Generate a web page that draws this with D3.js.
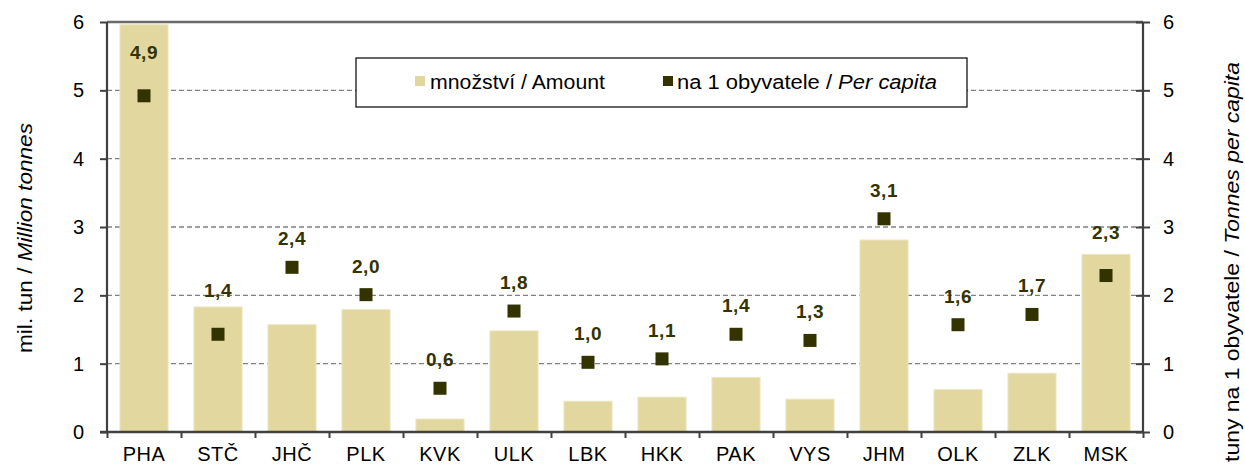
<!DOCTYPE html>
<html><head><meta charset="utf-8">
<script src="https://cdn.jsdelivr.net/npm/d3@7"></script>
<style>
html,body{margin:0;padding:0;background:#fff;}
text{font-family:"Liberation Sans",Arial,sans-serif;}
</style></head>
<body><svg id="c" width="1245" height="468"></svg>
<script>
const categories = ["PHA","STČ","JHČ","PLK","KVK","ULK","LBK","HKK","PAK","VYS","JHM","OLK","ZLK","MSK"];
const amount = [5.96,1.83,1.57,1.79,0.19,1.48,0.45,0.51,0.80,0.48,2.81,0.62,0.86,2.60];
const perCapita = [4.92,1.43,2.41,2.01,0.64,1.77,1.02,1.07,1.43,1.34,3.12,1.57,1.72,2.29];
const yTicks = [0,1,2,3,4,5,6];

const svg = d3.select("#c");
const L = 107, R = 1143, T = 22, B = 432;
const x = d3.scaleBand().domain(categories).range([L,R]).paddingInner(0.35).paddingOuter(0.175);
const y = d3.scaleLinear().domain([0,6]).range([B,T]);
const y2 = d3.scaleLinear().domain([0,6]).range([B,T]);
const fmt = v => d3.format(".1f")(v).replace(".",",");

// gridlines
svg.append("g").selectAll("line").data(yTicks.filter(d=>d>0)).join("line")
  .attr("x1",L).attr("x2",R).attr("y1",d=>y(d)).attr("y2",d=>y(d))
  .attr("stroke","#808080").attr("stroke-width",1.3).attr("stroke-dasharray","5,3");
svg.append("line").attr("x1",L).attr("x2",R).attr("y1",y(6)).attr("y2",y(6))
  .attr("stroke","#6a6a6a").attr("stroke-width",2.5);

// bars
svg.append("g").selectAll("rect").data(categories).join("rect")
  .attr("x",d=>x(d)).attr("width",x.bandwidth())
  .attr("y",(d,i)=>y(amount[i])).attr("height",(d,i)=>B-y(amount[i]))
  .attr("fill","#e1d79f").attr("stroke","#ece6c2").attr("stroke-width",1);

// left axis
const gl = svg.append("g").attr("transform",`translate(${L},0)`)
  .call(d3.axisLeft(y).tickValues(yTicks).tickSize(7).tickPadding(16).tickFormat(d3.format("d")));
// right axis
const gr = svg.append("g").attr("transform",`translate(${R},0)`)
  .call(d3.axisRight(y2).tickValues(yTicks).tickSize(7).tickPadding(13).tickFormat(d3.format("d")));
gr.selectAll(".tick line").attr("x1",-7);
// bottom axis
const xb = d3.scaleLinear().domain([0,categories.length]).range([L,R]);
const gb = svg.append("g").attr("transform",`translate(0,${B})`)
  .call(d3.axisBottom(xb).tickValues(d3.range(0,categories.length+1)).tickSize(6).tickFormat(""));
gb.select(".domain").remove();
svg.append("line").attr("x1",L-7).attr("x2",R).attr("y1",B).attr("y2",B).attr("stroke","#404040").attr("stroke-width",2.5);
[gl,gr].forEach(g=>{
  g.select(".domain").attr("d",`M0,${T}V${B}`).attr("stroke","#404040").attr("stroke-width",2.2);
  g.selectAll(".tick line").attr("stroke","#404040").attr("stroke-width",2);
  g.selectAll(".tick text").attr("font-size",20).attr("fill","#000").attr("font-family","Liberation Sans, Arial, sans-serif");
});
gb.selectAll(".tick line").attr("stroke","#404040").attr("stroke-width",2);

// x labels
svg.append("g").selectAll("text").data(categories).join("text")
  .attr("x",d=>x(d)+x.bandwidth()/2).attr("y",B+29).attr("text-anchor","middle")
  .attr("font-size",20).attr("letter-spacing",0.5).attr("fill","#000").text(d=>d);

// markers
const ms = 13;
svg.append("g").selectAll("rect").data(categories).join("rect")
  .attr("x",d=>x(d)+x.bandwidth()/2-ms/2).attr("y",(d,i)=>y2(perCapita[i])-ms/2)
  .attr("width",ms).attr("height",ms).attr("fill","#333300");
// labels (higher when the marker sits inside its bar)
svg.append("g").selectAll("text").data(categories).join("text")
  .attr("x",d=>x(d)+x.bandwidth()/2)
  .attr("y",(d,i)=>y2(perCapita[i]) - (perCapita[i] < amount[i] ? 37 : 22))
  .attr("text-anchor","middle").attr("font-size",19).attr("letter-spacing",0.6).attr("font-weight","bold")
  .attr("fill","#333300").text((d,i)=>fmt(perCapita[i]));

// legend
const lg = svg.append("g");
lg.append("rect").attr("x",356).attr("y",58).attr("width",611).attr("height",49)
  .attr("fill","#fff").attr("stroke","#000").attr("stroke-width",1.2);
lg.append("rect").attr("x",415).attr("y",76).attr("width",10).attr("height",10).attr("fill","#e1d79f");
lg.append("text").attr("x",430).attr("y",89).attr("font-size",20)
  .attr("textLength",175).attr("lengthAdjust","spacingAndGlyphs").text("množství / Amount");
lg.append("rect").attr("x",663).attr("y",76).attr("width",10).attr("height",10).attr("fill","#333300");
const t2 = lg.append("text").attr("x",677).attr("y",89).attr("font-size",20)
  .attr("textLength",260).attr("lengthAdjust","spacingAndGlyphs");
t2.append("tspan").text("na 1 obyvatele /  ");
t2.append("tspan").attr("font-style","italic").text("Per capita");

// axis titles
const lt = svg.append("text").attr("transform","translate(32,238) rotate(-90)")
  .attr("text-anchor","middle").attr("font-size",20)
  .attr("textLength",230).attr("lengthAdjust","spacingAndGlyphs");
lt.append("tspan").text("mil.  tun / ");
lt.append("tspan").attr("font-style","italic").text("Million tonnes");
const rt = svg.append("text").attr("transform","translate(1239,262) rotate(-90)")
  .attr("text-anchor","middle").attr("font-size",20)
  .attr("textLength",400).attr("lengthAdjust","spacingAndGlyphs");
rt.append("tspan").text("tuny na 1 obyvatele / ");
rt.append("tspan").attr("font-style","italic").text("Tonnes per capita");
</script></body></html>
